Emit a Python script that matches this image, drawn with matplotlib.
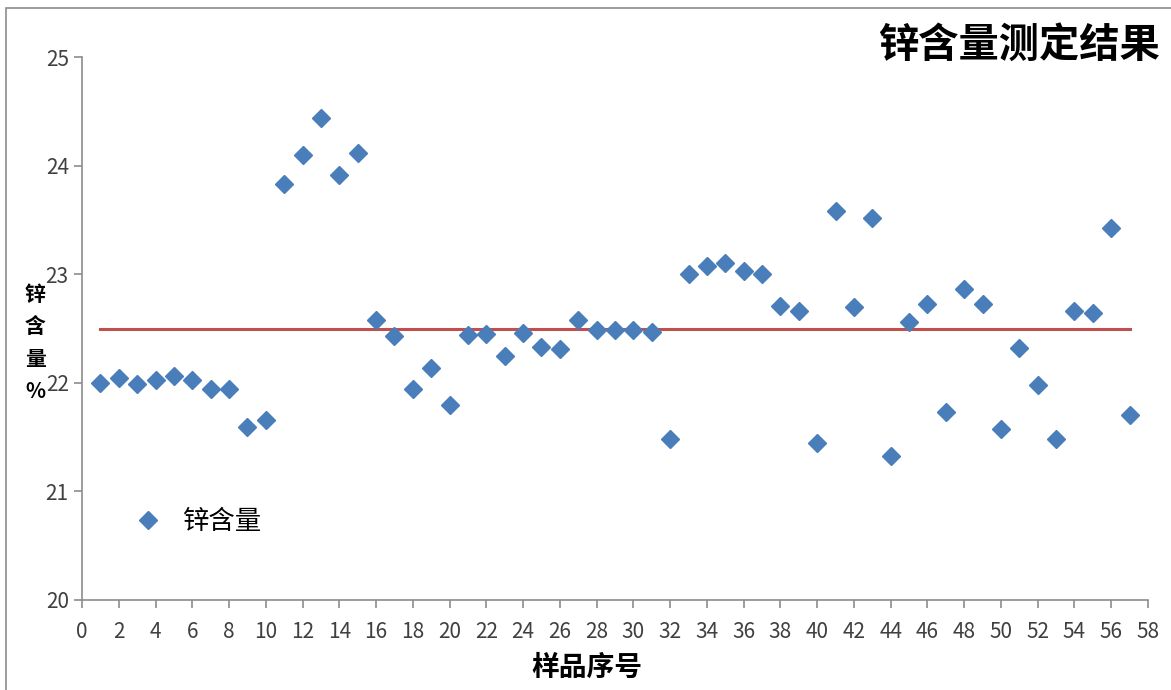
import matplotlib.pyplot as plt
from matplotlib.patches import Rectangle

plt.rcParams['font.family'] = ['Noto Sans CJK SC', 'DejaVu Sans']

# sample index and zinc content (%)
samples = list(range(1, 58))
zinc = [22.00, 22.04, 21.99, 22.03, 22.06, 22.03, 21.94, 21.94, 21.59, 21.66,
        23.83, 24.10, 24.44, 23.91, 24.12, 22.58, 22.43, 21.94, 22.14, 21.80,
        22.44, 22.45, 22.25, 22.46, 22.33, 22.31, 22.58, 22.49, 22.49, 22.49,
        22.47, 21.48, 23.00, 23.08, 23.10, 23.03, 23.00, 22.71, 22.66, 21.45,
        23.58, 22.70, 23.52, 21.33, 22.56, 22.73, 21.73, 22.86, 22.73, 21.57,
        22.32, 21.98, 21.48, 22.66, 22.64, 23.43, 21.70]
mean_line = 22.5
xticks = list(range(0, 59, 2))
yticks = [20, 21, 22, 23, 24, 25]

fig = plt.figure(figsize=(11.71, 6.90), dpi=100)
fig.patches.append(Rectangle((0.005, -0.05), 1.2, 0.05 + 1 - 8/690, transform=fig.transFigure,
                             fill=False, edgecolor='#8c8c8c', linewidth=1.2))

ax = fig.add_axes([82/1171, 1 - 600/690, (1148 - 82)/1171, (600 - 57)/690])

ax.plot(samples, zinc, linestyle='none', marker='D', markersize=9.5,
        color='#4a7ebb', label='锌含量', zorder=3)
ax.plot([samples[0], samples[-1]], [mean_line, mean_line], color='#c0504d', linewidth=2.2, zorder=2)

ax.set_xlim(0, 58)
ax.set_ylim(20, 25)
ax.set_xticks(xticks)
ax.set_yticks(yticks)
for side in ['top', 'right']:
    ax.spines[side].set_visible(False)
for side in ['left', 'bottom']:
    ax.spines[side].set_color('#8c8c8c')
    ax.spines[side].set_linewidth(1.2)
ax.tick_params(direction='out', length=6, width=1.2, color='#8c8c8c',
               labelsize=15, labelcolor='#404040')
ax.tick_params(axis='x', pad=9)

fig.text(587/1171, 1 - 668/690, '样品序号', ha='center', va='center',
         fontsize=20, fontweight='bold')
fig.text(35/1171, 1 - 343/690, '锌\n含\n量\n%', ha='center', va='center',
         fontsize=15, fontweight='bold', linespacing=1.65)
fig.text(1160/1171, 1 - 45/690, '锌含量测定结果', ha='right', va='center',
         fontsize=29, fontweight='bold')

ax.legend(loc='center left', bbox_to_anchor=(0.025, 0.145), frameon=False,
          fontsize=19, handletextpad=0.7, handlelength=1.2)

fig.savefig('out.png', dpi=100)
